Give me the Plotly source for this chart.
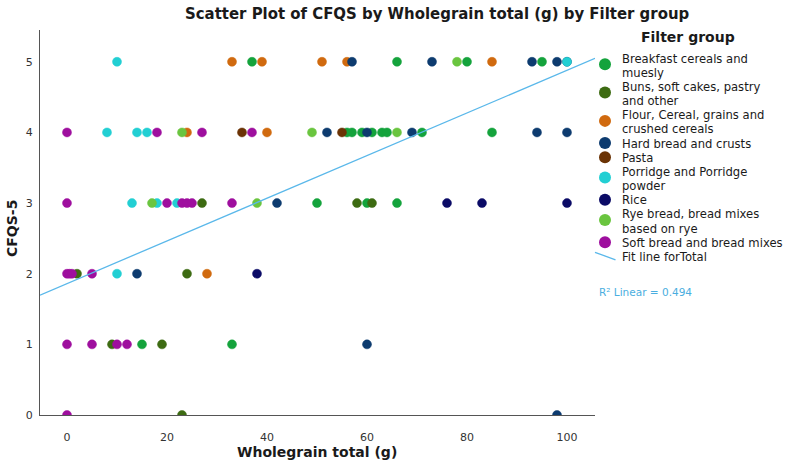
import plotly.graph_objects as go

# ---------------- data ----------------
group_labels = [
    "Breakfast cereals and\nmuesly",
    "Buns, soft cakes, pastry\nand other",
    "Flour, Cereal, grains and\ncrushed cereals",
    "Hard bread and crusts",
    "Pasta",
    "Porridge and Porridge\npowder",
    "Rice",
    "Rye bread, bread mixes\nbased on rye",
    "Soft bread and bread mixes",
]
group_colors = ["#14a33c", "#3d6b12", "#d06a0f", "#0d3b6f", "#6b3305",
                "#22cfd3", "#0b0b66", "#6ac53f", "#9e0f9e"]

breakfast_x = [37, 66, 80, 95, 56, 57, 59, 61, 63, 64, 71, 85, 50, 60, 66, 15, 33]
breakfast_y = [5, 5, 5, 5, 4, 4, 4, 4, 4, 4, 4, 4, 3, 3, 3, 1, 1]
buns_x = [27, 58, 61, 2, 24, 9, 19, 23]
buns_y = [3, 3, 3, 2, 2, 1, 1, 0]
flour_x = [33, 39, 51, 56, 85, 24, 40, 28]
flour_y = [5, 5, 5, 5, 5, 4, 4, 2]
hardbread_x = [57, 73, 93, 98, 100, 52, 60, 69, 94, 100, 42, 14, 60, 98]
hardbread_y = [5, 5, 5, 5, 5, 4, 4, 4, 4, 4, 3, 2, 1, 0]
pasta_x = [35, 55]
pasta_y = [4, 4]
porridge_x = [10, 100, 8, 14, 16, 13, 18, 22, 10]
porridge_y = [5, 5, 4, 4, 4, 3, 3, 3, 2]
rice_x = [76, 83, 100, 38]
rice_y = [3, 3, 3, 2]
rye_x = [78, 23, 49, 66, 17, 38]
rye_y = [5, 4, 4, 4, 3, 3]
softbread_x = [0, 18, 27, 37, 0, 20, 23, 24, 25, 33, 0, 0.5, 1, 5, 0, 5, 10, 12, 0]
softbread_y = [4, 4, 4, 4, 3, 3, 3, 3, 3, 3, 2, 2, 2, 2, 1, 1, 1, 1, 0]

series_x = [breakfast_x, buns_x, flour_x, hardbread_x, pasta_x,
            porridge_x, rice_x, rye_x, softbread_x]
series_y = [breakfast_y, buns_y, flour_y, hardbread_y, pasta_y,
            porridge_y, rice_y, rye_y, softbread_y]

fit_intercept = 1.86
fit_slope = 0.0302
r2_text = "R² Linear = 0.494"
fit_label = "Fit line forTotal"

x_ticks = [0, 20, 40, 60, 80, 100]
y_ticks = [0, 1, 2, 3, 4, 5]
x_range = [-5.4, 105.6]
y_range = [0, 5.45]

title_text = "Scatter Plot of CFQS by Wholegrain total (g) by Filter group"
x_title = "Wholegrain total (g)"
y_title = "CFQS-5"
legend_title = "Filter group"

# ---------------- layout helpers ----------------
W, H = 787, 466
L, R, T, B = 40, 192, 30, 51
PW, PH = W - L - R, H - T - B
SANS = "DejaVu Sans, sans-serif"
COND = "DejaVu Sans Condensed, Liberation Sans Narrow, DejaVu Sans, sans-serif"


def pxx(px):
    return (px - L) / PW


def pxy(py):
    return (H - B - py) / PH


fig = go.Figure()

for xs, ys, lab, col in zip(series_x, series_y, group_labels, group_colors):
    fig.add_trace(go.Scatter(
        x=xs, y=ys, mode="markers", name=lab.replace("\n", " "),
        marker=dict(size=9, color=col, line=dict(width=0.5, color=col)),
        showlegend=False, hoverinfo="x+y+name"))

fit_x = [x_range[0], x_range[1]]
fit_y = [fit_intercept + fit_slope * v for v in fit_x]
fig.add_trace(go.Scatter(x=fit_x, y=fit_y, mode="lines",
                         line=dict(color="#5ab8ea", width=1.3),
                         showlegend=False, hoverinfo="skip"))

annotations = []
shapes = []

# main title
annotations.append(dict(text="<b>%s</b>" % title_text, x=pxx(437), y=pxy(13),
                        xref="paper", yref="paper", showarrow=False,
                        xanchor="center", yanchor="middle",
                        font=dict(family=COND, size=16.6, color="#1a1a1a")))
# axis titles
annotations.append(dict(text="<b>%s</b>" % x_title, x=pxx(316.5), y=pxy(452),
                        xref="paper", yref="paper", showarrow=False,
                        xanchor="center", yanchor="middle",
                        font=dict(family=SANS, size=14, color="#1a1a1a")))
annotations.append(dict(text="<b>%s</b>" % y_title, x=pxx(12), y=pxy(229),
                        xref="paper", yref="paper", showarrow=False, textangle=-90,
                        xanchor="center", yanchor="middle",
                        font=dict(family=SANS, size=14, color="#1a1a1a")))

# manual legend
annotations.append(dict(text="<b>%s</b>" % legend_title, x=pxx(688), y=pxy(37),
                        xref="paper", yref="paper", showarrow=False,
                        xanchor="center", yanchor="middle",
                        font=dict(family=SANS, size=14, color="#1a1a1a")))
line0, step = 58.7, 14.15
k = 0
for lab, col in zip(group_labels, group_colors):
    lines = lab.split("\n")
    ys = []
    for ln in lines:
        yy = line0 + step * k
        ys.append(yy)
        annotations.append(dict(text=ln, x=pxx(620), y=pxy(yy), xref="paper", yref="paper",
                                showarrow=False, xanchor="left", yanchor="middle",
                                font=dict(family=SANS, size=11.6, color="#1a1a1a")))
        k += 1
    my = sum(ys) / len(ys) - (1.5 if len(ys) > 1 else 0.5)
    shapes.append(dict(type="circle", xref="paper", yref="paper",
                       xsizemode="pixel", ysizemode="pixel",
                       xanchor=pxx(605), yanchor=pxy(my),
                       x0=-6, x1=6, y0=-6, y1=6,
                       fillcolor=col, line=dict(width=0)))
fy = line0 + step * k
annotations.append(dict(text=fit_label, x=pxx(620), y=pxy(fy), xref="paper", yref="paper",
                        showarrow=False, xanchor="left", yanchor="middle",
                        font=dict(family=SANS, size=11.6, color="#1a1a1a")))
shapes.append(dict(type="line", xref="paper", yref="paper",
                   x0=pxx(595), y0=pxy(fy - 4.5), x1=pxx(615.5), y1=pxy(fy + 3),
                   line=dict(color="#5ab8ea", width=1.3)))
annotations.append(dict(text=r2_text, x=pxx(597), y=pxy(292), xref="paper", yref="paper",
                        showarrow=False, xanchor="left", yanchor="middle",
                        font=dict(family=SANS, size=10.5, color="#4aaee0")))

fig.update_layout(
    width=W, height=H,
    margin=dict(l=L, r=R, t=T, b=B, pad=0),
    paper_bgcolor="white", plot_bgcolor="white",
    showlegend=False,
    annotations=annotations, shapes=shapes,
    xaxis=dict(range=x_range, tickvals=x_ticks, showgrid=False, zeroline=False,
               showline=True, linecolor="#555555", linewidth=1, ticks="",
               ticklabelstandoff=12,
               tickfont=dict(family=SANS, size=11, color="#333333")),
    yaxis=dict(range=y_range, tickvals=y_ticks, showgrid=False, zeroline=False,
               showline=True, linecolor="#555555", linewidth=1, ticks="",
               ticklabelstandoff=4,
               tickfont=dict(family=SANS, size=11, color="#333333")),
)

fig.write_html("out.html")
